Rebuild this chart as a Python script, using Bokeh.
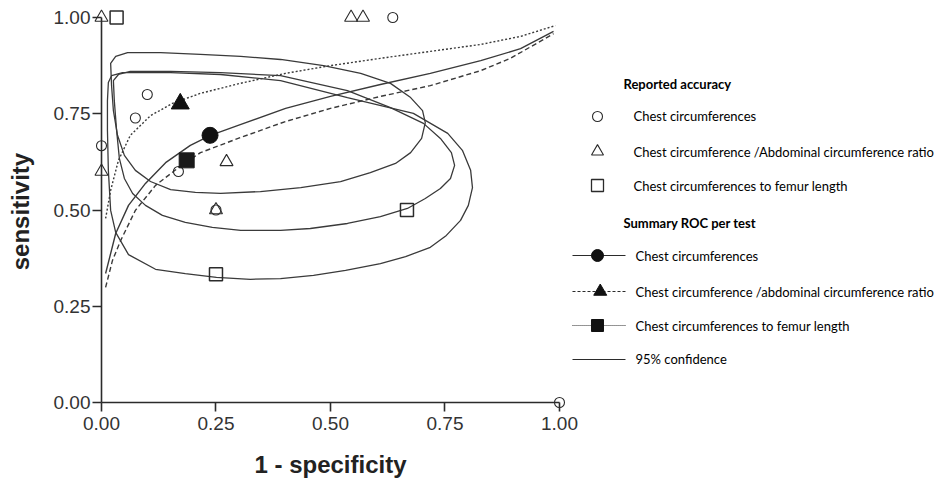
import numpy as np
from bokeh.plotting import figure
from bokeh.models import Range1d, LinearAxis, FixedTicker, NumeralTickFormatter, Label
from bokeh.core.properties import value
from bokeh.embed import file_html
from bokeh.resources import INLINE

# ---- reported accuracy of the individual studies (1 - specificity, sensitivity)
cc_fpr = [0.0, 0.100, 0.074, 0.168, 0.250, 0.636, 1.000]
cc_sens = [0.667, 0.800, 0.739, 0.600, 0.500, 1.000, 0.000]

ccac_fpr = [0.0, 0.0, 0.273, 0.250, 0.545, 0.571]
ccac_sens = [1.000, 0.600, 0.625, 0.500, 1.000, 1.000]

ccfl_fpr = [0.033, 0.667, 0.250]
ccfl_sens = [1.000, 0.500, 0.333]

# ---- summary operating points
sum_cc = (0.237, 0.694)
sum_ccac = (0.172, 0.776)
sum_ccfl = (0.186, 0.629)

# ---- summary ROC curves
roc_cc_fpr = [0.009, 0.031, 0.059, 0.096, 0.140, 0.194, 0.238, 0.303, 0.402, 0.500, 0.609, 0.718, 0.828, 0.915, 0.987]
roc_cc_sens = [0.335, 0.439, 0.512, 0.569, 0.623, 0.668, 0.694, 0.722, 0.764, 0.795, 0.826, 0.855, 0.888, 0.919, 0.964]

roc_ccfl_fpr = [0.009, 0.024, 0.042, 0.074, 0.118, 0.168, 0.216, 0.303, 0.402, 0.500, 0.609, 0.718, 0.828, 0.893, 0.987]
roc_ccfl_sens = [0.299, 0.369, 0.421, 0.499, 0.564, 0.610, 0.649, 0.688, 0.730, 0.764, 0.795, 0.823, 0.862, 0.894, 0.958]

roc_ccac_fpr = [0.009, 0.020, 0.037, 0.063, 0.107, 0.155, 0.216, 0.303, 0.402, 0.500, 0.609, 0.718, 0.828, 0.915, 0.991]
roc_ccac_sens = [0.478, 0.551, 0.629, 0.694, 0.745, 0.777, 0.803, 0.829, 0.855, 0.875, 0.894, 0.912, 0.930, 0.951, 0.979]

# ---- 95% confidence regions around the summary points
ci_ccac_fpr = [0.020, 0.031, 0.057, 0.129, 0.216, 0.304, 0.391, 0.485, 0.566, 0.631, 0.675, 0.701, 0.707,
               0.699, 0.675, 0.642, 0.587, 0.522, 0.435, 0.347, 0.260, 0.205, 0.151, 0.107, 0.074, 0.050,
               0.035, 0.026, 0.022]
ci_ccac_sens = [0.881, 0.899, 0.909, 0.909, 0.904, 0.899, 0.891, 0.875, 0.855, 0.829, 0.792, 0.758, 0.727,
                0.686, 0.649, 0.621, 0.597, 0.574, 0.558, 0.548, 0.543, 0.546, 0.553, 0.574, 0.603, 0.642,
                0.694, 0.758, 0.823]

ci_cc_fpr = [0.026, 0.037, 0.063, 0.151, 0.260, 0.391, 0.537, 0.631, 0.703, 0.740, 0.764, 0.771, 0.762,
             0.740, 0.707, 0.668, 0.609, 0.537, 0.456, 0.391, 0.304, 0.242, 0.183, 0.133, 0.096, 0.068,
             0.050, 0.039, 0.033, 0.028]
ci_cc_sens = [0.836, 0.852, 0.860, 0.860, 0.857, 0.849, 0.810, 0.766, 0.725, 0.686, 0.649, 0.616, 0.582,
              0.556, 0.530, 0.504, 0.483, 0.465, 0.452, 0.447, 0.447, 0.455, 0.468, 0.486, 0.512, 0.543,
              0.582, 0.634, 0.707, 0.784]

ci_ccfl_fpr = [0.015, 0.022, 0.046, 0.151, 0.260, 0.391, 0.537, 0.681, 0.756, 0.788, 0.806, 0.810, 0.801,
               0.784, 0.753, 0.718, 0.664, 0.609, 0.533, 0.463, 0.391, 0.325, 0.251, 0.183, 0.118, 0.059,
               0.031, 0.020, 0.015, 0.013, 0.013]
ci_ccfl_sens = [0.831, 0.849, 0.857, 0.857, 0.852, 0.836, 0.792, 0.751, 0.699, 0.655, 0.603, 0.558, 0.512,
                0.473, 0.434, 0.403, 0.379, 0.361, 0.343, 0.330, 0.322, 0.320, 0.325, 0.335, 0.346, 0.384,
                0.442, 0.499, 0.603, 0.707, 0.784]

# ---- axis ticks
ticks = [0.0, 0.25, 0.50, 0.75, 1.0]

INK = "#2b2b2b"
CURVE = "#3a3a3a"
LEG_FONT = value("Lato")

p = figure(width=947, height=481,
           x_range=Range1d(-0.2205, 1.8472), y_range=Range1d(-0.2052, 1.0442),
           x_axis_location=None, y_axis_location=None,
           min_border=0, toolbar_location=None, output_backend="svg",
           outline_line_color=None, background_fill_color="white", border_fill_color="white")
p.xgrid.visible = False
p.ygrid.visible = False

for side in ("below", "left"):
    ax = LinearAxis(fixed_location=0, bounds=(0, 1), ticker=FixedTicker(ticks=ticks),
                    formatter=NumeralTickFormatter(format="0.00"))
    ax.axis_line_color = INK
    ax.axis_line_width = 1.6
    ax.major_tick_line_color = INK
    ax.major_tick_line_width = 1.6
    ax.major_tick_out = 9
    ax.major_tick_in = 0
    ax.minor_tick_out = 0
    ax.minor_tick_in = 0
    ax.major_label_text_font = "Liberation Sans"
    ax.major_label_text_font_size = "19px"
    ax.major_label_text_color = "#333333"
    ax.major_label_standoff = 2 if side == "left" else 5
    p.add_layout(ax, side)

# axis titles
p.add_layout(Label(x=0.5, y=-0.160, text="1 - specificity", text_align="center",
                   text_baseline="middle", text_font="Liberation Sans",
                   text_font_style="bold", text_font_size="24px", text_color="#222222"))
p.add_layout(Label(x=-0.176, y=0.496, text="sensitivity", angle=np.pi / 2, text_align="center",
                   text_baseline="middle", text_font="Liberation Sans",
                   text_font_style="bold", text_font_size="24px", text_color="#222222"))

# confidence regions
for xs, ys in ((ci_ccac_fpr, ci_ccac_sens), (ci_cc_fpr, ci_cc_sens), (ci_ccfl_fpr, ci_ccfl_sens)):
    p.patch(xs, ys, fill_color=None, line_color=CURVE, line_width=1.3)

# summary ROC curves
p.line(roc_cc_fpr, roc_cc_sens, line_color=CURVE, line_width=1.4)
p.line(roc_ccfl_fpr, roc_ccfl_sens, line_color=CURVE, line_width=1.4, line_dash="5 3")
p.line(roc_ccac_fpr, roc_ccac_sens, line_color=CURVE, line_width=1.4, line_dash="2 2")

# study points
p.scatter(cc_fpr, cc_sens, marker="circle", size=10, fill_color=None, line_color=INK, line_width=1.1)
p.scatter(ccac_fpr, ccac_sens, marker="triangle", size=13, fill_color=None, line_color=INK, line_width=1.1)
p.scatter(ccfl_fpr, ccfl_sens, marker="square", size=13, fill_color=None, line_color=INK, line_width=1.5)

# summary points
p.scatter([sum_cc[0]], [sum_cc[1]], marker="circle", size=16, fill_color="#111111", line_color="#111111")
p.scatter([sum_ccac[0]], [sum_ccac[1]], marker="triangle", size=18, fill_color="#111111", line_color="#111111")
p.scatter([sum_ccfl[0]], [sum_ccfl[1]], marker="square", size=15, fill_color="#1a1a1a", line_color="#1a1a1a")

# ---- key, drawn to the right of the plot area
key_mark_x = 1.083
key_text_x = 1.1616
key_head_x = 1.1397
key_line = (1.0284, 1.1441)
key_text2_x = 1.166

head_y = [0.8286, 0.4675]
p.text(x=[key_head_x] * 2, y=head_y, text=["Reported accuracy", "Summary ROC per test"],
       text_font=LEG_FONT, text_font_style="bold", text_font_size="13px",
       text_baseline="middle", text_color="black")

rep_y = [0.7429, 0.6519, 0.5636]
p.scatter([key_mark_x], [rep_y[0]], marker="circle", size=10, fill_color=None, line_color=INK, line_width=1.1)
p.scatter([key_mark_x], [rep_y[1]], marker="triangle", size=12, fill_color=None, line_color=INK, line_width=1.1)
p.scatter([key_mark_x], [rep_y[2]], marker="square", size=12, fill_color=None, line_color=INK, line_width=1.3)
p.text(x=[key_text_x] * 3, y=rep_y,
       text=["Chest circumferences", "Chest circumference /Abdominal circumference ratio",
             "Chest circumferences to femur length"],
       text_font=LEG_FONT, text_font_size="13px", text_baseline="middle", text_color="black")

sroc_y = [0.3818, 0.2883, 0.2000, 0.1117]
p.line(list(key_line), [sroc_y[0]] * 2, line_color=INK, line_width=1.1)
p.line(list(key_line), [sroc_y[1]] * 2, line_color=INK, line_width=1.1, line_dash="3 2")
p.line(list(key_line), [sroc_y[2]] * 2, line_color=INK, line_width=1.0, line_dash="1 1")
p.line(list(key_line), [sroc_y[3]] * 2, line_color=INK, line_width=1.1)
p.scatter([key_mark_x], [sroc_y[0]], marker="circle", size=12, fill_color="#111111", line_color="#111111")
p.scatter([key_mark_x + 0.006], [sroc_y[1]], marker="triangle", size=13, fill_color="#111111", line_color="#111111")
p.scatter([key_mark_x], [sroc_y[2]], marker="square", size=12, fill_color="#111111", line_color="#111111")
p.text(x=[key_text2_x] * 4, y=sroc_y,
       text=["Chest circumferences", "Chest circumference /abdominal circumference ratio",
             "Chest circumferences to femur length", "95% confidence"],
       text_font=LEG_FONT, text_font_size="13px", text_baseline="middle", text_color="black")

open("out.html", "w").write(file_html(p, INLINE))
